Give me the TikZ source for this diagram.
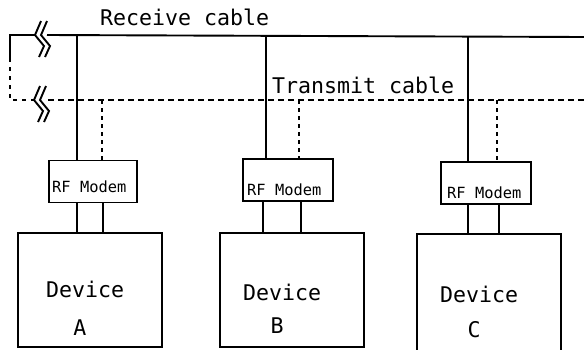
\documentclass[tikz,border=0pt]{standalone}
\usepackage{fontspec}
\newfontfamily\plotfont{DejaVu Sans Mono}
\begin{document}
\begin{tikzpicture}[x=1pt,y=-1pt,
  cable/.style={line width=1.9pt},
  txcable/.style={line width=1.9pt, dash pattern=on 6pt off 4pt},
  tap/.style={line width=1.9pt},
  txtap/.style={line width=1.9pt, dash pattern=on 4pt off 4pt},
  link/.style={line width=2.2pt},
  modem/.style={draw, line width=1.5pt, minimum width=88pt, minimum height=42pt, inner sep=0pt},
  device/.style={draw, line width=1.5pt, minimum width=144pt, minimum height=114pt, inner sep=0pt},
  biglabel/.style={font=\plotfont\fontsize{21.6}{24}\selectfont, inner sep=0pt},
  smalllabel/.style={font=\plotfont\fontsize{15.4}{17}\selectfont, inner sep=0pt},
  cablebreak/.pic={
    \draw[line width=1.9pt, line join=miter] (6,-14) -- (0,0) -- (9,11) -- (4,22);
    \draw[line width=1.9pt, line join=miter] (12,-14) -- (6,0) -- (15,11) -- (10,22);
  }]
\useasboundingbox (0,0) rectangle (584,349);

% cable ends and taps
\coordinate (rxL) at (35,35);
\coordinate (rxR) at (584,37);
\coordinate (rxS) at (47,35);
\coordinate (txL) at (34,100);
\coordinate (txS) at (48,100);
\coordinate (txR) at (584,100);
\coordinate (loopTop) at (10,35);
\coordinate (loopMid) at (10,58);
\coordinate (loopBot) at (10,100);

\coordinate (rxA) at (77,35);
\coordinate (txA) at (102,100);
\coordinate (rxB) at (266,36);
\coordinate (txB) at (299,100);
\coordinate (rxC) at (468,37);
\coordinate (txC) at (497,100);

% receive and transmit cables
\draw[cable] (rxS) -- (rxR);
\draw[txcable] (txS) -- (txR);
\draw[cable] (rxL) -- (loopTop) -- (loopMid);
\draw[line width=1.9pt, dash pattern=on 4pt off 5pt] (loopMid) -- (loopBot) -- (txL);
\pic at (rxL) {cablebreak};
\pic at (txL) {cablebreak};

\node[biglabel, anchor=base west] (rxlabel) at (100,25) {Receive cable};
\node[biglabel, anchor=base west] (txlabel) at (272,93) {Transmit cable};

% modems
\node[modem] (mA) at (93,181.5) {};
\node[modem, minimum width=90pt] (mB) at (288,180) {};
\node[modem, minimum width=90pt] (mC) at (486,183) {};

\node[smalllabel, anchor=base west] (mAl) at (52,192) {RF Modem};
\node[smalllabel, anchor=base west] (mBl) at (247,195) {RF Modem};
\node[smalllabel, anchor=base west] (mCl) at (447,198) {RF Modem};

% devices
\node[device] (dA) at (90,290) {};
\node[device] (dB) at (292,290) {};
\node[device, minimum height=118pt] (dC) at (489,293) {};

\node[biglabel, anchor=base west] (dAl) at (46,297) {Device};
\node[biglabel, anchor=base] (dAn) at (80,335) {A};
\node[biglabel, anchor=base west] (dBl) at (243,300) {Device};
\node[biglabel, anchor=base] (dBn) at (277,333) {B};
\node[biglabel, anchor=base west] (dCl) at (440,302) {Device};
\node[biglabel, anchor=base] (dCn) at (474,337) {C};

% taps from cables to modems
\draw[tap] (rxA) -- (rxA |- mA.north);
\draw[txtap] (txA) -- (txA |- mA.north);
\draw[tap] (rxB) -- (rxB |- mB.north);
\draw[txtap] (txB) -- (txB |- mB.north);
\draw[tap] (rxC) -- (rxC |- mC.north);
\draw[txtap] (txC) -- (txC |- mC.north);

% modem to device links
\draw[link] ([xshift=-16pt]mA.south) -- ([xshift=-16pt]mA.south |- dA.north);
\draw[link] ([xshift=10pt]mA.south) -- ([xshift=10pt]mA.south |- dA.north);
\draw[link] ([xshift=-25pt]mB.south) -- ([xshift=-25pt]mB.south |- dB.north);
\draw[link] ([xshift=13pt]mB.south) -- ([xshift=13pt]mB.south |- dB.north);
\draw[link] ([xshift=-18pt]mC.south) -- ([xshift=-18pt]mC.south |- dC.north);
\draw[link] ([xshift=13pt]mC.south) -- ([xshift=13pt]mC.south |- dC.north);
\end{tikzpicture}
\end{document}
